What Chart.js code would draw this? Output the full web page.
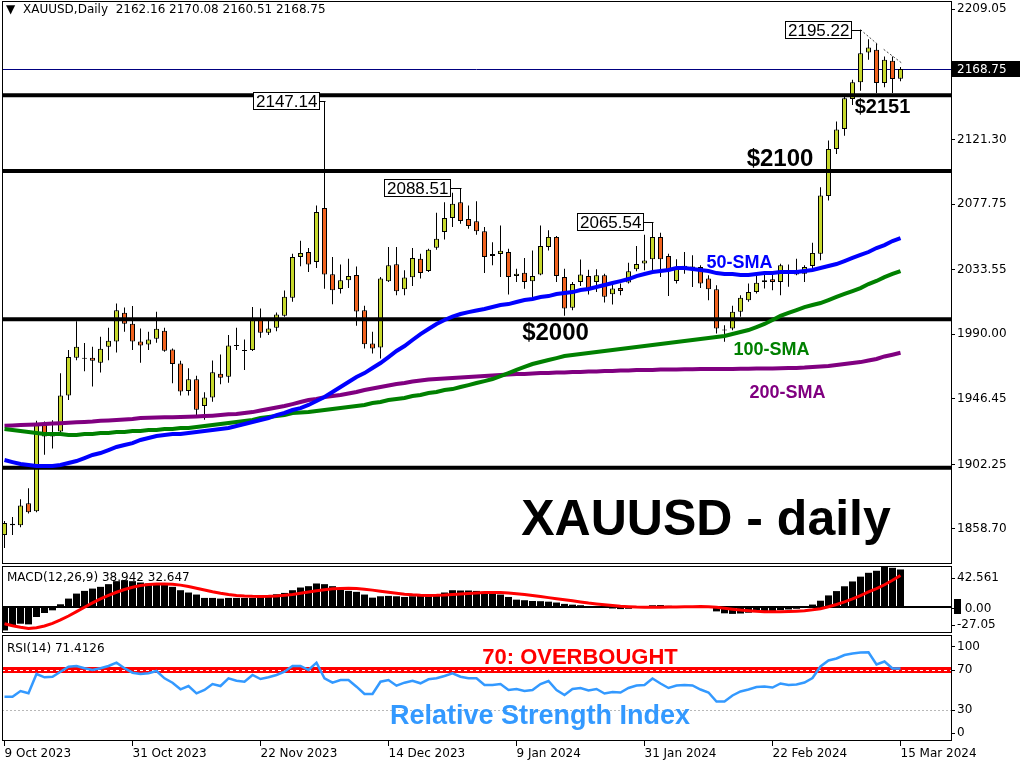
<!DOCTYPE html>
<html>
<head>
<meta charset="utf-8">
<title>XAUUSD daily</title>
<script src="https://cdn.jsdelivr.net/npm/chart.js@4.4.1/dist/chart.umd.min.js"></script>
<style>
  html, body { margin: 0; padding: 0; background: #fff; }
  #board { position: relative; width: 1024px; height: 768px; overflow: hidden; background: #fff; }
  #board canvas { position: absolute; left: 0; }
</style>
</head>
<body>
<div id="board">
  <canvas id="priceChart" width="1024" height="565" style="top:0px"></canvas>
  <canvas id="macdChart" width="1024" height="69" style="top:565px"></canvas>
  <canvas id="rsiChart" width="1024" height="134" style="top:634px"></canvas>
</div>
<script>
// daily candles, 9 Oct 2023 .. 15 Mar 2024 (113 sessions)
const opens = [1854.6, 1862.3, 1861.2, 1876.0, 1870.6, 1928.8, 1921.0, 1924.4, 1948.6, 1974.2,
  1974.0, 1974.2, 1970.8, 1981.6, 1985.0, 2004.4, 1997.0, 1985.0, 1983.0, 1986.9,
  1992.3, 1979.7, 1970.3, 1951.7, 1959.6, 1941.6, 1947.3, 1963.4, 1961.4, 1982.3,
  1979.0, 1979.3, 1999.5, 1990.9, 1994.3, 2002.4, 2014.5, 2042.1, 2045.4, 2038.7,
  2075.0, 2030.4, 2020.5, 2026.3, 2029.9, 2006.2, 1983.8, 1981.0, 2025.7, 2037.1,
  2020.3, 2028.4, 2040.9, 2032.6, 2048.3, 2058.9, 2068.3, 2079.0, 2067.7, 2066.2,
  2059.4, 2042.7, 2044.0, 2045.4, 2029.3, 2031.5, 2025.7, 2030.2, 2048.8, 2055.6,
  2028.6, 2007.8, 2025.2, 2029.3, 2025.2, 2029.7, 2016.9, 2021.2, 2024.8, 2033.7,
  2037.6, 2040.5, 2055.6, 2042.7, 2025.9, 2034.0, 2035.6, 2035.3, 2027.5, 2020.3,
  1992.5, 1993.9, 2005.1, 2012.9, 2018.5, 2025.2, 2027.0, 2025.2, 2033.0, 2030.2,
  2030.8, 2036.0, 2044.3, 2083.1, 2114.9, 2128.4, 2148.5, 2159.8, 2179.9, 2181.7,
  2159.3, 2174.3, 2162.16];
const highs = [1864.1, 1866.8, 1878.8, 1886.2, 1931.7, 1931.1, 1932.0, 1963.6, 1979.3, 1998.8,
  1984.0, 1981.6, 1988.3, 1994.3, 2010.7, 2008.0, 2009.0, 1993.8, 1991.6, 2005.1,
  1994.3, 1980.4, 1972.1, 1967.0, 1962.0, 1950.8, 1972.3, 1976.3, 1989.4, 1994.3,
  1986.5, 2008.4, 2007.3, 1999.5, 2004.6, 2019.4, 2044.3, 2053.0, 2048.1, 2076.8,
  2147.14, 2042.1, 2036.9, 2040.9, 2035.6, 2009.1, 1991.6, 2028.6, 2048.8, 2048.8,
  2033.1, 2048.1, 2044.3, 2047.6, 2071.8, 2079.0, 2085.3, 2088.51, 2076.8, 2079.7,
  2062.2, 2052.0, 2063.3, 2047.6, 2034.2, 2041.4, 2046.5, 2063.3, 2060.0, 2056.2,
  2034.2, 2025.2, 2040.3, 2033.5, 2033.7, 2030.8, 2025.2, 2024.1, 2038.2, 2049.5,
  2057.1, 2065.54, 2058.4, 2044.3, 2040.5, 2045.4, 2043.2, 2036.4, 2029.7, 2023.0,
  1996.0, 2009.1, 2016.2, 2024.1, 2029.7, 2030.2, 2030.8, 2037.5, 2037.0, 2040.9,
  2036.4, 2051.7, 2089.1, 2120.5, 2133.3, 2151.9, 2161.5, 2195.22, 2188.9, 2186.2,
  2177.2, 2177.2, 2170.08];
const lows = [1845.9, 1854.6, 1859.8, 1869.2, 1870.0, 1908.7, 1913.0, 1922.0, 1945.6, 1972.5,
  1965.0, 1954.7, 1964.1, 1972.5, 1977.7, 1991.6, 1979.3, 1970.8, 1979.3, 1984.3,
  1978.2, 1956.9, 1948.6, 1948.6, 1935.6, 1932.3, 1944.5, 1956.2, 1957.3, 1979.3,
  1965.8, 1978.6, 1987.6, 1989.4, 1992.0, 2001.7, 2011.8, 2035.8, 2032.0, 2034.7,
  2020.7, 2010.2, 2017.4, 2021.2, 1995.7, 1980.4, 1977.0, 1973.6, 2025.2, 2016.2,
  2016.2, 2022.5, 2027.5, 2032.0, 2047.0, 2053.9, 2062.2, 2064.5, 2061.1, 2057.1,
  2031.3, 2036.4, 2028.6, 2016.7, 2025.2, 2020.7, 2014.1, 2029.7, 2046.5, 2025.2,
  2002.4, 2006.2, 2022.5, 2016.7, 2018.5, 2011.3, 2010.0, 2016.2, 2024.1, 2032.4,
  2033.1, 2033.1, 2028.6, 2015.8, 2024.1, 2030.8, 2021.9, 2021.2, 2012.9, 1990.5,
  1984.9, 1992.7, 2001.7, 2011.8, 2017.4, 2020.8, 2019.6, 2016.2, 2022.0, 2029.7,
  2025.2, 2034.7, 2039.8, 2080.1, 2111.5, 2123.8, 2144.5, 2154.1, 2175.0, 2152.6,
  2156.4, 2152.6, 2160.51];
const closes = [1862.7, 1861.2, 1874.6, 1870.0, 1928.8, 1921.0, 1922.0, 1948.6, 1974.6, 1981.6,
  1973.5, 1972.1, 1980.2, 1985.6, 2006.2, 1997.0, 1985.0, 1982.3, 1986.5, 1993.6,
  1978.9, 1969.9, 1951.3, 1959.6, 1939.0, 1947.4, 1964.3, 1960.7, 1982.3, 1982.0,
  1978.6, 1999.5, 1990.9, 1993.9, 2003.3, 2015.2, 2042.1, 2044.8, 2036.9, 2072.3,
  2030.2, 2019.6, 2026.3, 2029.3, 2005.3, 1983.2, 1980.4, 2027.5, 2036.4, 2019.0,
  2028.2, 2041.4, 2031.3, 2047.0, 2054.4, 2068.3, 2077.9, 2066.3, 2062.9, 2059.4,
  2042.1, 2044.0, 2046.3, 2028.6, 2030.8, 2025.2, 2029.3, 2049.5, 2055.6, 2029.3,
  2007.3, 2023.9, 2030.2, 2020.8, 2029.7, 2015.2, 2020.8, 2019.2, 2032.4, 2037.4,
  2039.6, 2055.6, 2040.5, 2032.4, 2035.3, 2036.2, 2034.6, 2024.1, 2020.3, 1993.9,
  1993.0, 2005.1, 2014.5, 2018.5, 2024.6, 2026.3, 2025.2, 2036.4, 2031.0, 2032.0,
  2035.3, 2044.8, 2083.5, 2114.9, 2127.9, 2149.0, 2159.8, 2179.3, 2183.3, 2159.3,
  2175.0, 2162.0, 2168.75];

const sma50 = [1905.2, 1903.8, 1902.5, 1901.8, 1901.1, 1901.1, 1901.1, 1901.8, 1903.2, 1904.5,
  1906.5, 1908.6, 1909.9, 1911.9, 1914.0, 1915.3, 1916.6, 1918.7, 1920.0, 1921.4,
  1922.0, 1922.7, 1922.7, 1923.4, 1924.1, 1924.7, 1925.4, 1926.1, 1926.8, 1928.1,
  1929.5, 1930.8, 1932.2, 1933.5, 1935.5, 1936.9, 1938.9, 1940.2, 1942.3, 1945.0,
  1947.7, 1951.0, 1954.4, 1957.8, 1961.1, 1963.8, 1967.2, 1970.6, 1974.6, 1978.7,
  1982.0, 1986.1, 1990.1, 1993.5, 1996.9, 1999.6, 2001.9, 2003.6, 2004.9, 2006.0,
  2007.0, 2008.3, 2009.7, 2010.3, 2011.7, 2013.0, 2013.7, 2015.1, 2015.7, 2017.1,
  2017.7, 2018.4, 2019.8, 2020.5, 2021.8, 2023.2, 2024.5, 2025.8, 2027.2, 2029.2,
  2030.6, 2031.9, 2032.6, 2033.3, 2034.6, 2034.6, 2033.9, 2033.3, 2032.6, 2031.2,
  2030.6, 2030.6, 2029.9, 2029.9, 2030.6, 2031.2, 2031.2, 2031.9, 2031.9, 2031.9,
  2032.6, 2033.3, 2034.6, 2036.0, 2037.3, 2039.3, 2041.4, 2043.4, 2045.4, 2048.1,
  2050.1, 2052.8, 2054.8];
const sma100 = [1926.1, 1925.4, 1924.7, 1924.1, 1923.4, 1922.7, 1922.7, 1922.7, 1922.0, 1922.0,
  1922.7, 1922.7, 1923.4, 1923.4, 1924.1, 1924.1, 1924.7, 1924.7, 1925.4, 1925.4,
  1926.1, 1926.1, 1926.8, 1926.8, 1927.4, 1928.1, 1928.8, 1929.5, 1930.1, 1930.8,
  1931.5, 1932.2, 1933.5, 1934.2, 1934.8, 1935.5, 1936.9, 1937.2, 1937.5, 1938.2,
  1938.9, 1939.6, 1940.2, 1940.9, 1941.6, 1942.3, 1943.6, 1944.3, 1945.6, 1946.3,
  1947.0, 1948.3, 1949.0, 1950.4, 1951.0, 1952.4, 1953.0, 1954.4, 1955.7, 1957.1,
  1958.4, 1959.8, 1961.8, 1963.8, 1965.9, 1967.9, 1969.9, 1971.3, 1972.6, 1973.9,
  1975.3, 1976.0, 1976.6, 1977.3, 1978.0, 1978.7, 1979.3, 1980.0, 1980.7, 1981.4,
  1982.0, 1982.7, 1983.4, 1984.1, 1984.7, 1985.4, 1986.1, 1986.8, 1987.4, 1988.1,
  1988.8, 1990.1, 1991.5, 1992.8, 1994.8, 1996.9, 1999.6, 2002.3, 2004.3, 2006.3,
  2008.3, 2009.7, 2011.0, 2013.0, 2015.1, 2017.1, 2019.1, 2021.1, 2023.8, 2025.9,
  2028.5, 2030.6, 2032.6];
const sma200 = [1928.3, 1928.5, 1928.8, 1929.0, 1929.2, 1929.5, 1929.8, 1930.0, 1930.3, 1930.6,
  1930.8, 1931.1, 1931.7, 1931.9, 1932.2, 1932.5, 1932.8, 1933.5, 1933.6, 1933.8,
  1934.0, 1934.1, 1934.2, 1934.3, 1934.5, 1934.8, 1935.1, 1935.5, 1936.0, 1936.2,
  1936.9, 1937.5, 1938.6, 1939.6, 1940.6, 1941.6, 1942.9, 1944.3, 1945.6, 1946.3,
  1947.6, 1948.3, 1949.0, 1950.0, 1951.0, 1952.4, 1953.4, 1954.4, 1955.4, 1956.4,
  1957.1, 1958.1, 1958.8, 1959.5, 1959.8, 1960.1, 1960.5, 1960.8, 1961.1, 1961.5,
  1961.8, 1962.1, 1962.5, 1962.8, 1963.2, 1963.2, 1963.5, 1963.8, 1963.8, 1964.2,
  1964.2, 1964.5, 1964.5, 1964.8, 1964.8, 1965.2, 1965.2, 1965.5, 1965.5, 1965.8,
  1965.8, 1965.8, 1966.2, 1966.2, 1966.2, 1966.3, 1966.4, 1966.5, 1966.5, 1966.5,
  1966.6, 1966.6, 1966.7, 1966.7, 1966.8, 1966.8, 1966.9, 1967.0, 1967.2, 1967.3,
  1967.5, 1967.9, 1968.2, 1968.5, 1969.2, 1969.9, 1970.6, 1971.2, 1972.3, 1973.3,
  1975.0, 1976.2, 1977.5];

// MACD(12,26,9): main (histogram) and signal
const macdMain = [-24.4, -19.1, -17.4, -18.1, -10.4, -6.3, -3.5, 2.8, 8.7, 13.9,
  16.7, 19.1, 20.9, 23.7, 26.8, 27.8, 26.8, 25.4, 24.4, 23.7,
  23.7, 20.9, 17.4, 15.0, 12.9, 9.4, 9.4, 8.7, 9.4, 9.4,
  9.4, 9.4, 10.4, 12.2, 13.2, 14.6, 17.4, 20.2, 21.6, 24.4,
  23.7, 21.6, 19.1, 16.7, 15.7, 12.9, 9.7, 11.1, 11.5, 11.1,
  10.4, 11.1, 11.5, 12.2, 13.2, 15.0, 17.4, 17.1, 17.1, 16.7,
  15.7, 13.9, 12.9, 10.4, 7.6, 7.0, 6.2, 6.0, 5.5, 4.6,
  3.2, 2.4, 1.8, 0.8, 0.2, -0.8, -1.6, -2.2, -1.9, -1.0,
  0.4, 1.8, 2.0, 1.2, 0.6, 0.3, 0.6, 0.9, -0.8, -4.6,
  -6.6, -7.2, -6.8, -6.0, -5.3, -4.8, -4.3, -3.2, -2.6, -1.9,
  -1.0, 2.5, 6.5, 12.0, 16.5, 21.5, 26.5, 31.5, 35.5, 37.6,
  42.561, 40.7, 38.942];
const macdSignal = [-17.4, -19.5, -21.0, -22.3, -21.6, -19.8, -17.0, -13.5, -9.4, -4.9,
  -0.3, 4.2, 8.3, 12.0, 15.3, 18.1, 20.5, 22.2, 23.3, 23.8,
  23.9, 23.6, 22.7, 21.2, 19.5, 17.6, 15.8, 14.2, 12.9, 12.0,
  11.4, 11.1, 11.0, 11.1, 11.5, 12.1, 13.0, 14.2, 15.5, 16.9,
  18.0, 18.8, 19.3, 19.4, 19.1, 18.5, 17.5, 16.3, 15.2, 14.2,
  13.3, 12.6, 12.2, 12.0, 12.1, 12.4, 12.9, 13.5, 14.1, 14.6,
  14.9, 15.0, 14.9, 14.5, 13.8, 13.0, 11.9, 10.8, 9.7, 8.6,
  7.5, 6.4, 5.2, 4.1, 3.2, 2.3, 1.5, 0.8, 0.3, -0.1,
  -0.3, -0.3, -0.2, -0.1, 0.0, 0.1, 0.2, 0.4, 0.3, -0.4,
  -1.3, -2.3, -3.2, -3.9, -4.5, -4.9, -5.1, -5.1, -4.8, -4.4,
  -3.9, -3.0, -1.8, 0.2, 2.6, 5.3, 8.4, 11.9, 15.6, 19.1,
  23.1, 27.7, 32.647];

// RSI(14)
const rsi = [43.3, 43.3, 49.0, 46.7, 66.0, 62.7, 63.3, 68.3, 73.3, 74.0,
  71.7, 70.0, 71.7, 74.0, 77.3, 71.7, 67.3, 66.0, 66.7, 69.0,
  61.7, 57.3, 50.7, 54.0, 46.7, 50.0, 56.0, 54.0, 61.7, 59.3,
  58.3, 65.0, 61.0, 62.7, 65.0, 68.3, 74.0, 74.0, 70.0, 77.3,
  61.7, 57.3, 60.0, 60.0, 53.3, 46.0, 46.0, 58.3, 60.0, 54.3,
  57.3, 59.3, 56.7, 60.7, 61.7, 64.0, 66.7, 63.3, 61.7, 61.7,
  55.0, 55.0, 56.0, 50.0, 51.0, 49.0, 50.0, 56.0, 59.0, 50.0,
  45.0, 51.0, 52.0, 49.5, 51.0, 46.5, 48.0, 47.5, 52.0, 54.5,
  55.0, 61.5, 56.5, 52.0, 54.5, 55.0, 54.5, 50.5, 47.5, 38.5,
  38.5, 44.5, 48.5, 50.5, 53.0, 53.5, 52.5, 56.5, 55.0, 55.5,
  57.5, 62.0, 73.5, 79.5, 81.5, 85.0, 86.5, 87.5, 87.8, 75.5,
  78.5, 71.5, 71.4126];

const dateTickBars = [0, 16, 32, 48, 64, 80, 96, 112];
const dateTickText = ['9 Oct 2023', '31 Oct 2023', '22 Nov 2023', '14 Dec 2023',
  '9 Jan 2024', '31 Jan 2024', '22 Feb 2024', '15 Mar 2024'];
const priceTicks = [2209.05, 2165.50, 2121.30, 2077.75, 2033.55, 1990.00, 1946.45, 1902.25, 1858.70];
const levels = [2151, 2100, 2000, 1900];
const macdAxisText = ['42.561', '0.00', '-27.05'];
const rsiAxisText = ['100', '70', '30', '0'];
const rsiLevels = [70, 30];

const BULL = '#c6d82c';
const BEAR = '#f0621e';
const bars = opens.map((_, i) => i);
const lastBar = bars.length - 1;

// 8 px per session, chart area 949 px wide (2..951)
const X_MIN = -0.3125;
const X_MAX = X_MIN + 949 / 8;

Chart.defaults.font.family = '"DejaVu Sans", sans-serif';
Chart.defaults.font.size = 12;
Chart.defaults.color = '#000';

// keep the axes from reserving room for half-labels at the ends
function noPad(s) {
  s.paddingTop = 0;
  s.paddingBottom = 0;
  s.paddingLeft = 0;
  s.paddingRight = 0;
}

const frame = {
  id: 'frame',
  afterDraw(chart) {
    const { ctx, chartArea: a } = chart;
    ctx.save();
    ctx.strokeStyle = '#000';
    ctx.lineWidth = 1;
    ctx.strokeRect(a.left + 0.5, a.top + 0.5, a.right - a.left, a.bottom - a.top - 1);
    ctx.restore();
  }
};

// label boxes on the swing highs and the hand-written notes
const swingNotes = [
  { bar: 40, gap: 6 },
  { bar: 57, gap: 11 },
  { bar: 81, gap: 10 },
  { bar: 107, gap: 10 }
];
const chartNotes = [
  { text: '$2151', bar: 109.75, price: 2139.1, font: 'bold 20px "Liberation Sans"', color: '#000' },
  { text: '$2100', bar: 96.94, price: 2103.4, font: 'bold 24px "Liberation Sans"', color: '#000' },
  { text: '$2000', bar: 68.88, price: 1986.1, font: 'bold 24px "Liberation Sans"', color: '#000' },
  { text: '50-SMA', bar: 91.88, price: 2034.6, font: 'bold 18px "Liberation Sans"', color: '#0000ff' },
  { text: '100-SMA', bar: 95.88, price: 1976.0, font: 'bold 18px "Liberation Sans"', color: '#008000' },
  { text: '200-SMA', bar: 97.88, price: 1947.0, font: 'bold 18px "Liberation Sans"', color: '#800080' },
  { text: 'XAUUSD - daily', bar: 87.69, price: 1854.6, font: 'bold 50px "Liberation Sans"', color: '#000' }
];
const trendMarks = [[107, 2195.22, 109.1, 2185.6], [109.9, 2182.0, 112.1, 2173.0]];

const mainDecor = {
  id: 'mainDecor',
  beforeDatasetsDraw(chart) {
    // thin current-price line
    const { ctx, chartArea: a, scales: { y } } = chart;
    const py = Math.round(y.getPixelForValue(closes[lastBar])) + 0.5;
    ctx.save();
    ctx.strokeStyle = '#000080';
    ctx.lineWidth = 1;
    ctx.beginPath();
    ctx.moveTo(a.left, py);
    ctx.lineTo(a.right, py);
    ctx.stroke();
    ctx.restore();
  },
  afterDatasetsDraw(chart) {
    const { ctx, scales: { x, y } } = chart;
    ctx.save();
    ctx.strokeStyle = '#444';
    ctx.lineWidth = 1;
    ctx.setLineDash([2, 2]);
    trendMarks.forEach(([b1, p1, b2, p2]) => {
      ctx.beginPath();
      ctx.moveTo(x.getPixelForValue(b1), y.getPixelForValue(p1));
      ctx.lineTo(x.getPixelForValue(b2), y.getPixelForValue(p2));
      ctx.stroke();
    });
    ctx.setLineDash([]);

    ctx.font = '17px "Liberation Sans"';
    ctx.textAlign = 'left';
    ctx.textBaseline = 'middle';
    swingNotes.forEach(n => {
      const label = highs[n.bar].toFixed(2);
      const px = Math.round(x.getPixelForValue(n.bar));
      const py = Math.round(y.getPixelForValue(highs[n.bar]));
      const w = Math.round(ctx.measureText(label).width) + 5;
      const bx = px - n.gap - w;
      ctx.fillStyle = '#fff';
      ctx.fillRect(bx, py - 9, w, 18);
      ctx.strokeStyle = '#000';
      ctx.strokeRect(bx + 0.5, py - 8.5, w, 17);
      ctx.beginPath();
      ctx.moveTo(bx + w + 0.5, py + 0.5);
      ctx.lineTo(px + 0.5, py + 0.5);
      ctx.stroke();
      ctx.fillStyle = '#000';
      ctx.fillText(label, bx + 3, py + 1);
    });

    ctx.textAlign = 'center';
    ctx.textBaseline = 'alphabetic';
    chartNotes.forEach(n => {
      ctx.font = n.font;
      ctx.fillStyle = n.color;
      ctx.fillText(n.text, x.getPixelForValue(n.bar), y.getPixelForValue(n.price));
    });
    ctx.restore();
  },
  afterDraw(chart) {
    const { ctx, chartArea: a, scales: { y } } = chart;
    const last = closes[lastBar];
    const py = Math.round(y.getPixelForValue(last));
    ctx.save();
    ctx.fillStyle = '#000';
    ctx.fillRect(a.right + 1, py - 8, 68, 16);
    ctx.font = '12px "DejaVu Sans"';
    ctx.textAlign = 'left';
    ctx.textBaseline = 'middle';
    ctx.fillStyle = '#fff';
    ctx.fillText(last.toFixed(2), a.right + 6, py + 1);
    ctx.fillStyle = '#000';
    ctx.fillText('\u25BC', 6, 10);
    const ohlc = [opens[lastBar], highs[lastBar], lows[lastBar], closes[lastBar]].map(v => v.toFixed(2)).join(' ');
    ctx.fillText('XAUUSD,Daily  ' + ohlc, 23, 10);
    ctx.restore();
  }
};

function hiddenX() {
  return { type: 'linear', min: X_MIN, max: X_MAX, offset: false, display: false };
}

function line(values, color, width, order) {
  return {
    type: 'line',
    data: bars.map(i => ({ x: i, y: values[i] })),
    borderColor: color,
    borderWidth: width,
    pointRadius: 0,
    tension: 0,
    order: order
  };
}

new Chart(document.getElementById('priceChart'), {
  type: 'bar',
  data: {
    datasets: [
      {
        data: bars.map(i => ({ x: i, y: [lows[i], highs[i]] })),
        backgroundColor: '#000',
        barThickness: 1,
        grouped: false,
        inflateAmount: 0,
        order: 11
      },
      {
        data: bars.map(i => ({ x: i, y: [opens[i], closes[i]] })),
        backgroundColor: bars.map(i => closes[i] >= opens[i] ? BULL : BEAR),
        borderColor: '#000',
        borderWidth: 1,
        borderSkipped: false,
        barThickness: 5,
        minBarLength: 1,
        grouped: false,
        inflateAmount: 0,
        order: 10
      },
      ...levels.map(lv => ({
        type: 'line',
        data: [{ x: X_MIN, y: lv }, { x: X_MAX, y: lv }],
        borderColor: '#000',
        borderWidth: 4,
        pointRadius: 0,
        order: 8
      })),
      line(sma200, '#800080', 4, 3),
      line(sma100, '#008000', 4, 2),
      line(sma50, '#0000ff', 4, 1)
    ]
  },
  options: {
    responsive: false,
    animation: false,
    events: [],
    layout: { padding: { left: 2, top: 1, right: 0, bottom: 1 } },
    plugins: { legend: { display: false }, tooltip: { enabled: false } },
    scales: {
      x: hiddenX(),
      y: {
        position: 'right',
        min: 1835.1,
        max: 2214.6,
        afterBuildTicks: s => { s.ticks = priceTicks.map(v => ({ value: v })); },
        afterFit: s => { s.width = 73; noPad(s); },
        ticks: { padding: 2, autoSkip: false, color: '#000', callback: v => v.toFixed(2) },
        grid: { drawOnChartArea: false, tickLength: 4, tickColor: '#000' },
        border: { display: false }
      }
    }
  },
  plugins: [mainDecor, frame]
});

const macdDecor = {
  id: 'macdDecor',
  beforeDatasetsDraw(chart) {
    const { ctx, chartArea: a, scales: { y } } = chart;
    const y0 = Math.round(y.getPixelForValue(0));
    ctx.save();
    ctx.fillStyle = '#000';
    ctx.fillRect(a.left, y0 - 1, a.right - a.left, 2);
    ctx.restore();
  },
  afterDatasetsDraw(chart) {
    const { ctx, chartArea: a } = chart;
    ctx.save();
    ctx.font = '12px "DejaVu Sans"';
    ctx.fillStyle = '#000';
    ctx.textBaseline = 'middle';
    ctx.fillText('MACD(12,26,9) ' + macdMain[lastBar].toFixed(3) + ' ' + macdSignal[lastBar].toFixed(3),
      a.left + 5, a.top + 12);
    ctx.restore();
  },
  afterDraw(chart) {
    // small value marker beside the zero label
    const { ctx, chartArea: a, scales: { y } } = chart;
    const y0 = Math.round(y.getPixelForValue(0));
    ctx.save();
    ctx.fillStyle = '#000';
    ctx.fillRect(a.right + 3, y0 - 8, 7, 15);
    ctx.restore();
  }
};

new Chart(document.getElementById('macdChart'), {
  type: 'bar',
  data: {
    datasets: [
      {
        data: bars.map(i => ({ x: i, y: macdMain[i] })),
        backgroundColor: '#000',
        barThickness: 7,
        grouped: false,
        inflateAmount: 0,
        order: 2
      },
      line(macdSignal, '#ff0000', 3, 1)
    ]
  },
  options: {
    responsive: false,
    animation: false,
    events: [],
    layout: { padding: { left: 2, top: 1, right: 0, bottom: 1 } },
    plugins: { legend: { display: false }, tooltip: { enabled: false } },
    scales: {
      x: hiddenX(),
      y: {
        position: 'right',
        min: -27.05,
        max: 42.561,
        afterBuildTicks: s => {
          const u = (s.max - s.min) / 67;
          s.ticks = [{ value: s.max - 12 * u }, { value: -2 * u }, { value: s.min + 8 * u }];
        },
        afterFit: s => { s.width = 73; noPad(s); },
        ticks: {
          padding: 2, autoSkip: false, color: '#000',
          callback: (v, i) => (i === 1 ? '  ' : '') + macdAxisText[i]
        },
        grid: { drawOnChartArea: false, tickLength: 4, tickColor: '#000' },
        border: { display: false }
      }
    }
  },
  plugins: [macdDecor, frame]
});

const rsiDecor = {
  id: 'rsiDecor',
  beforeDatasetsDraw(chart) {
    const { ctx, chartArea: a, scales: { y } } = chart;
    const yHi = Math.round(y.getPixelForValue(rsiLevels[0]));
    const yLo = Math.round(y.getPixelForValue(rsiLevels[1]));
    ctx.save();
    ctx.fillStyle = '#ff0000';
    ctx.fillRect(a.left, yHi - 3, a.right - a.left, 6);
    ctx.strokeStyle = '#fff';
    ctx.lineWidth = 1;
    ctx.setLineDash([3, 3]);
    ctx.beginPath();
    ctx.moveTo(a.left, yHi + 0.5);
    ctx.lineTo(a.right, yHi + 0.5);
    ctx.stroke();
    ctx.strokeStyle = '#b8b8b8';
    ctx.setLineDash([2, 2]);
    ctx.beginPath();
    ctx.moveTo(a.left, yLo + 0.5);
    ctx.lineTo(a.right, yLo + 0.5);
    ctx.stroke();
    ctx.restore();
  },
  afterDatasetsDraw(chart) {
    const { ctx, chartArea: a, scales: { x, y } } = chart;
    ctx.save();
    ctx.font = '12px "DejaVu Sans"';
    ctx.fillStyle = '#000';
    ctx.textBaseline = 'middle';
    ctx.fillText('RSI(14) ' + rsi[lastBar].toFixed(4), a.left + 5, a.top + 14);
    ctx.textAlign = 'center';
    ctx.textBaseline = 'alphabetic';
    ctx.font = 'bold 22px "Liberation Sans"';
    ctx.fillStyle = '#ff0000';
    ctx.fillText('70: OVERBOUGHT', x.getPixelForValue(71.94), y.getPixelForValue(76));
    ctx.font = 'bold 27px "Liberation Sans"';
    ctx.fillStyle = '#3399ff';
    ctx.fillText('Relative Strength Index', x.getPixelForValue(66.94), y.getPixelForValue(16));
    ctx.restore();
  }
};

new Chart(document.getElementById('rsiChart'), {
  type: 'line',
  data: {
    datasets: [line(rsi, '#3399ff', 2.5, 1)]
  },
  options: {
    responsive: false,
    animation: false,
    events: [],
    layout: { padding: { left: 2, top: 1, right: 0, bottom: 0 } },
    plugins: { legend: { display: false }, tooltip: { enabled: false } },
    scales: {
      x: {
        type: 'linear',
        min: X_MIN,
        max: X_MAX,
        offset: false,
        afterBuildTicks: s => { s.ticks = dateTickBars.map(v => ({ value: v })); },
        afterFit: s => { s.height = 27; noPad(s); },
        ticks: {
          align: 'start', autoSkip: false, maxRotation: 0, padding: 1, color: '#000',
          callback: (v, i) => dateTickText[i]
        },
        grid: { drawOnChartArea: false, tickLength: 5, tickColor: '#000' },
        border: { display: false }
      },
      y: {
        position: 'right',
        min: -1,
        max: 105,
        afterBuildTicks: s => {
          s.ticks = [{ value: 93 }, { value: rsiLevels[0] }, { value: rsiLevels[1] }, { value: 7 }];
        },
        afterFit: s => { s.width = 73; noPad(s); },
        ticks: { padding: 2, autoSkip: false, color: '#000', callback: (v, i) => rsiAxisText[i] },
        grid: { drawOnChartArea: false, tickLength: 4, tickColor: '#000' },
        border: { display: false }
      }
    }
  },
  plugins: [rsiDecor, frame]
});
</script>
</body>
</html>
